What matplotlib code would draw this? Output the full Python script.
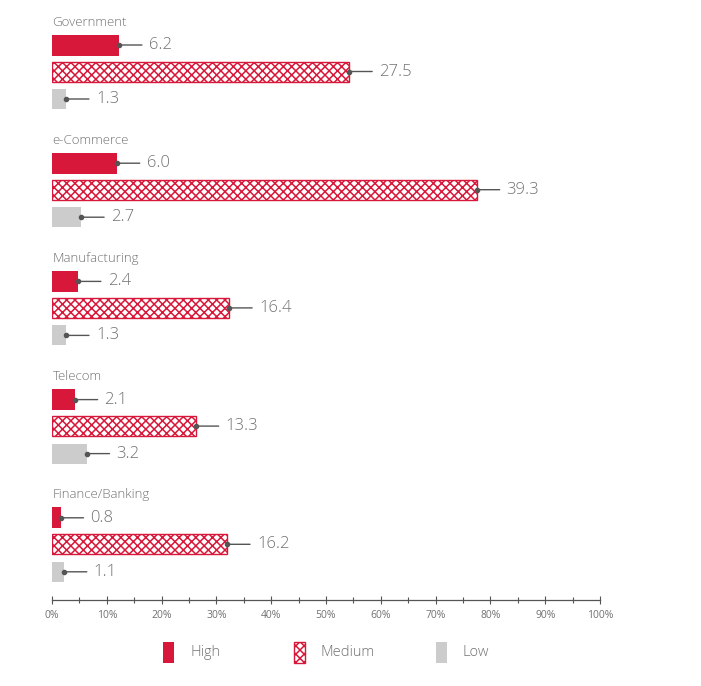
import matplotlib
matplotlib.use("Agg")
import matplotlib.pyplot as plt
from matplotlib.patches import Rectangle

# Data (values shown next to the bars)
sectors = ["Government", "e-Commerce", "Manufacturing", "Telecom", "Finance/Banking"]
high = [6.2, 6.0, 2.4, 2.1, 0.8]
medium = [27.5, 39.3, 16.4, 13.3, 16.2]
low = [1.3, 2.7, 1.3, 3.2, 1.1]
tick_labels = ["0%", "10%", "20%", "30%", "40%", "50%", "60%", "70%", "80%", "90%", "100%"]
legend_labels = ["High", "Medium", "Low"]

RED = "#d7183a"
GREY = "#cdcccd"
TXT = "#727272"
DARK = "#555555"

plt.rcParams["font.family"] = ["Open Sans", "DejaVu Sans"]
plt.rcParams["hatch.linewidth"] = 1.1

W, H = 701, 686
fig = plt.figure(figsize=(W / 100, H / 100), dpi=100)
# axes placed in pixel terms: 0% at x=52, 100% at x=600, axis line at y=600
ax = fig.add_axes([52 / W, 86 / H, 548 / W, 592 / H])
xmax = 50.7
ax.set_xlim(0, xmax)
ax.set_ylim(600, 8)

# layout (pixel rows): group spacing and bar offsets under each title
step = 118.2
title_y0 = 22
offs = [23, 49.5, 77]
bh = 21

for i, name in enumerate(sectors):
    ty = title_y0 + step * i
    ax.text(0.05, ty, name, fontsize=9.5, color=TXT, va="center", ha="left",
            fontweight="light")
    ys = [ty + o for o in offs]
    ax.barh(ys[0], high[i], height=bh, color=RED, linewidth=0)
    ax.barh(ys[1], medium[i], height=bh - 1, color="white", edgecolor=RED,
            hatch="xxxx", linewidth=1)
    ax.barh(ys[2], low[i], height=bh - 1, color=GREY, linewidth=0)
    for y, v in zip(ys, [high[i], medium[i], low[i]]):
        ax.plot(v, y, "o", ms=3, color=DARK, zorder=5)
        ax.annotate(f"{v:.1f}", xy=(v, y), xytext=(21.5, 0), textcoords="offset points",
                    fontsize=12, color=TXT, va="center", ha="left", fontweight="light",
                    arrowprops=dict(arrowstyle="-", color=DARK, lw=1,
                                    shrinkA=3, shrinkB=0))

ax.set_xticks([xmax * i / 10 for i in range(11)])
ax.set_xticklabels(tick_labels, fontsize=7.5, color=TXT)
ax.set_xticks([xmax * (i + 0.5) / 10 for i in range(10)], minor=True)
ax.tick_params(axis="x", which="major", direction="inout", length=6, width=0.8,
               color=DARK, pad=4)
ax.tick_params(axis="x", which="minor", direction="inout", length=4, width=0.8,
               color=DARK)
ax.set_yticks([])
for s in ["top", "right", "left"]:
    ax.spines[s].set_visible(False)
ax.spines["bottom"].set_color(DARK)
ax.spines["bottom"].set_linewidth(0.9)

# legend drawn by hand to match the spacing of the original
leg_x = [163, 294, 436]
leg_styles = [dict(facecolor=RED, linewidth=0),
              dict(facecolor="white", edgecolor=RED, hatch="xxxx", linewidth=1),
              dict(facecolor=GREY, linewidth=0)]
for x, lab, st in zip(leg_x, legend_labels, leg_styles):
    fig.patches.append(Rectangle((x / W, (H - 663) / H), 11 / W, 21 / H,
                                 transform=fig.transFigure, figure=fig, **st))
    fig.text((x + 27) / W, (H - 652.5) / H, lab, fontsize=10.5, color=TXT,
             va="center", ha="left", fontweight="light")

fig.savefig("out.png", dpi=100)
